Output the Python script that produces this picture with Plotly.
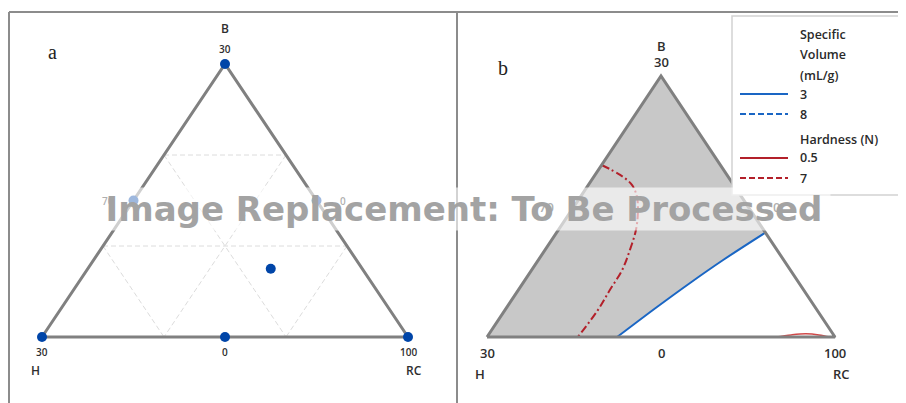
import plotly.graph_objects as go

# mixture design points (fractions of B and RC, H = 1 - B - RC)
design_B = [1.0, 0.0, 0.0, 0.5, 0.5, 0.0, 0.25]
design_RC = [0.0, 0.0, 1.0, 0.0, 0.5, 0.5, 0.5]
grid_levels = [1 / 3, 2 / 3]

# overlaid contour plot
sv3_B = [0.0, 0.115, 0.207, 0.295, 0.40]
sv3_RC = [0.374, 0.431, 0.480, 0.531, 0.60]
hard7_B = [0.659, 0.621, 0.582, 0.536, 0.475, 0.410, 0.333, 0.257, 0.180, 0.103, 0.0]
hard7_RC = [0.0, 0.072, 0.126, 0.163, 0.196, 0.223, 0.244, 0.260, 0.263, 0.267, 0.261]
hard05_B = [0.0, 0.008, 0.012, 0.008, 0.0]
hard05_RC = [0.83, 0.87, 0.91, 0.95, 0.985]

vertex_labels = ['B', 'H', 'RC']
vertex_values = ['30', '30', '100']
side_values = ['70', '0', '0']

W, H = 906, 403
OFF = 8  # page body margin
TRI_LINE = '#808080'
PT_BLUE = '#0045a8'
TXT = '#2e2e2e'
RED = '#b3202a'
BLUE = '#1a66c4'


def px(x):
    return (x - OFF) / W


def py(y):
    return 1 - (y - OFF) / H


def to_xy(b, rc):
    return [r + bb / 2 for bb, r in zip(b, rc)], list(b)


def axis_setup(left, right, top, x0, x1, y0, y1):
    # pixel box of the panel + pixel positions of the triangle corners
    bottom = H + OFF
    xr = [(left - x0) / (x1 - x0), (right - x0) / (x1 - x0)]
    yr = [(y0 - bottom) / (y0 - y1), (y0 - top) / (y0 - y1)]
    xa = dict(domain=[px(left), px(right)], range=xr, visible=False, fixedrange=True)
    ya = dict(domain=[0, py(top)], range=yr, visible=False, fixedrange=True)
    return xa, ya


fig = go.Figure()

# ---------- panel a ----------
for c in grid_levels:
    segs = [
        ([c, c], [0, 1 - c]),          # constant B
        ([1 - c, 0], [0, 1 - c]),      # constant H
        ([1 - c, 0], [c, c]),          # constant RC
    ]
    for b, rc in segs:
        gx, gy = to_xy(b, rc)
        fig.add_trace(go.Scatter(x=gx, y=gy, mode='lines', xaxis='x', yaxis='y',
                                 line=dict(color='#dcdcdc', width=1, dash='5px,3px'),
                                 hoverinfo='skip', showlegend=False))

tx, ty = to_xy([0, 1, 0, 0], [0, 0, 1, 0])
fig.add_trace(go.Scatter(x=tx, y=ty, mode='lines', xaxis='x', yaxis='y',
                         line=dict(color=TRI_LINE, width=3), hoverinfo='skip', showlegend=False))

dx, dy = to_xy(design_B, design_RC)
fig.add_trace(go.Scatter(x=dx, y=dy, mode='markers', xaxis='x', yaxis='y', cliponaxis=False,
                         marker=dict(color=PT_BLUE, size=10), showlegend=False))

# ---------- panel b ----------
fill_B = [0.0, 1.0] + sv3_B[::-1] + [0.0]
fill_RC = [0.0, 0.0] + sv3_RC[::-1] + [0.0]
fx, fy = to_xy(fill_B, fill_RC)
fig.add_trace(go.Scatter(x=fx, y=fy, mode='lines', fill='toself', fillcolor='#c8c8c8',
                         line=dict(width=0), xaxis='x2', yaxis='y2', hoverinfo='skip', showlegend=False))

cx, cy = to_xy(sv3_B, sv3_RC)
fig.add_trace(go.Scatter(x=cx, y=cy, mode='lines', xaxis='x2', yaxis='y2',
                         line=dict(color=BLUE, width=2, shape='spline'), showlegend=False))
cx, cy = to_xy(hard7_B, hard7_RC)
fig.add_trace(go.Scatter(x=cx, y=cy, mode='lines', xaxis='x2', yaxis='y2',
                         line=dict(color=RED, width=2, dash='8px,3px,2px,3px', shape='spline'),
                         showlegend=False))
cx, cy = to_xy(hard05_B, hard05_RC)
fig.add_trace(go.Scatter(x=cx, y=cy, mode='lines', xaxis='x2', yaxis='y2',
                         line=dict(color='#d04a4a', width=1.5, shape='spline'), showlegend=False))

tx, ty = to_xy([0, 1, 0, 0], [0, 0, 1, 0])
fig.add_trace(go.Scatter(x=tx, y=ty, mode='lines', xaxis='x2', yaxis='y2',
                         line=dict(color=TRI_LINE, width=3), hoverinfo='skip', showlegend=False))

# ---------- labels ----------
annotations = []


def corner_labels(xref, yref, small, big, dy_b, dy_num, dy_base, dy_name, side_dx):
    vx, vy = to_xy([1, 0, 0], [0, 0, 1])
    f_small = dict(size=small, color=TXT, weight=600)
    f_big = dict(size=big, color=TXT, weight=600)
    # apex
    annotations.append(dict(x=vx[0], y=vy[0], xref=xref, yref=yref, text=vertex_labels[0],
                            showarrow=False, yshift=dy_b, font=f_big))
    annotations.append(dict(x=vx[0], y=vy[0], xref=xref, yref=yref, text=vertex_values[0],
                            showarrow=False, yshift=dy_num, font=f_small))
    # base corners
    for i, xs in ((1, -7), (2, 6)):
        annotations.append(dict(x=vx[i], y=vy[i], xref=xref, yref=yref, text=vertex_values[i],
                                showarrow=False, yshift=dy_base, font=f_small))
        annotations.append(dict(x=vx[i], y=vy[i], xref=xref, yref=yref, text=vertex_labels[i],
                                showarrow=False, yshift=dy_name, xshift=xs, font=f_big))
    # mid-edge values
    mx, my = to_xy([0.5, 0.5, 0.0], [0.0, 0.5, 0.5])
    for i, xs, ys in ((0, -side_dx, 0), (1, side_dx, 0), (2, 0, dy_base)):
        annotations.append(dict(x=mx[i], y=my[i], xref=xref, yref=yref, text=side_values[i],
                                showarrow=False, xshift=xs, yshift=ys, font=f_small))


corner_labels('x', 'y', 10, 12, 35, 15, -15, -33, 26)
corner_labels('x2', 'y2', 13, 13, 30, 14, -16, -37, 28)

for t, x, y in (('a', 46, 52), ('b', 503, 68)):
    annotations.append(dict(x=px(x), y=py(y), xref='paper', yref='paper', text=t, showarrow=False,
                            yanchor='middle', font=dict(family='Liberation Serif', size=20, color='#222')))

# legend (drawn by hand to keep the indented group titles)
leg_text = [('Specific', 35), ('Volume', 55), ('(mL/g)', 75), ('3', 94), ('8', 114),
            ('Hardness (N)', 139), ('0.5', 158), ('7', 178)]
for t, y in leg_text:
    annotations.append(dict(x=px(798), y=py(y), xref='paper', yref='paper', text=t,
                            showarrow=False, xanchor='left', yanchor='middle',
                            font=dict(size=12.5, color='#2a2a2a', weight=600)))

# overlay banner
annotations.append(dict(x=px(464), y=py(209), xref='paper', yref='paper', yanchor='middle',
                        text='<b>Image Replacement: To Be Processed</b>', showarrow=False,
                        width=730, height=40, bgcolor='rgba(255,255,255,0.62)',
                        font=dict(family='DejaVu Sans', size=34, color='#a3a3a3')))

shapes = [
    dict(type='line', xref='paper', yref='paper', x0=px(9), x1=1, y0=py(12), y1=py(12),
         line=dict(color='#8c8c8c', width=2)),
    dict(type='line', xref='paper', yref='paper', x0=px(9), x1=px(9), y0=0, y1=py(12),
         line=dict(color='#8c8c8c', width=2)),
    dict(type='line', xref='paper', yref='paper', x0=px(457), x1=px(457), y0=0, y1=py(12),
         line=dict(color='#8c8c8c', width=2)),
    dict(type='rect', xref='paper', yref='paper', x0=px(732), x1=1.01, y0=py(195), y1=py(16),
         fillcolor='white', line=dict(color='#d2d2d2', width=1.5)),
]
for y, col, dash in ((94, BLUE, 'solid'), (114, BLUE, '6px,3px'),
                     (158, RED, 'solid'), (178, RED, '6px,3px')):
    shapes.append(dict(type='line', xref='paper', yref='paper', x0=px(740), x1=px(788),
                       y0=py(y), y1=py(y), line=dict(color=col, width=2, dash=dash)))

xa, ya = axis_setup(9, 457, 12, 42, 408, 337, 64)
xa2, ya2 = axis_setup(458, W + OFF, 12, 487, 835, 337, 76)
ya2['anchor'] = 'x2'
xa2['anchor'] = 'y2'

fig.update_layout(
    width=W, height=H,
    margin=dict(l=0, r=0, t=0, b=0),
    paper_bgcolor='white', plot_bgcolor='rgba(0,0,0,0)',
    font=dict(family='Open Sans', color=TXT),
    xaxis=xa, yaxis=ya, xaxis2=xa2, yaxis2=ya2,
    annotations=annotations, shapes=shapes,
    showlegend=False,
)

fig.write_html('out.html')
